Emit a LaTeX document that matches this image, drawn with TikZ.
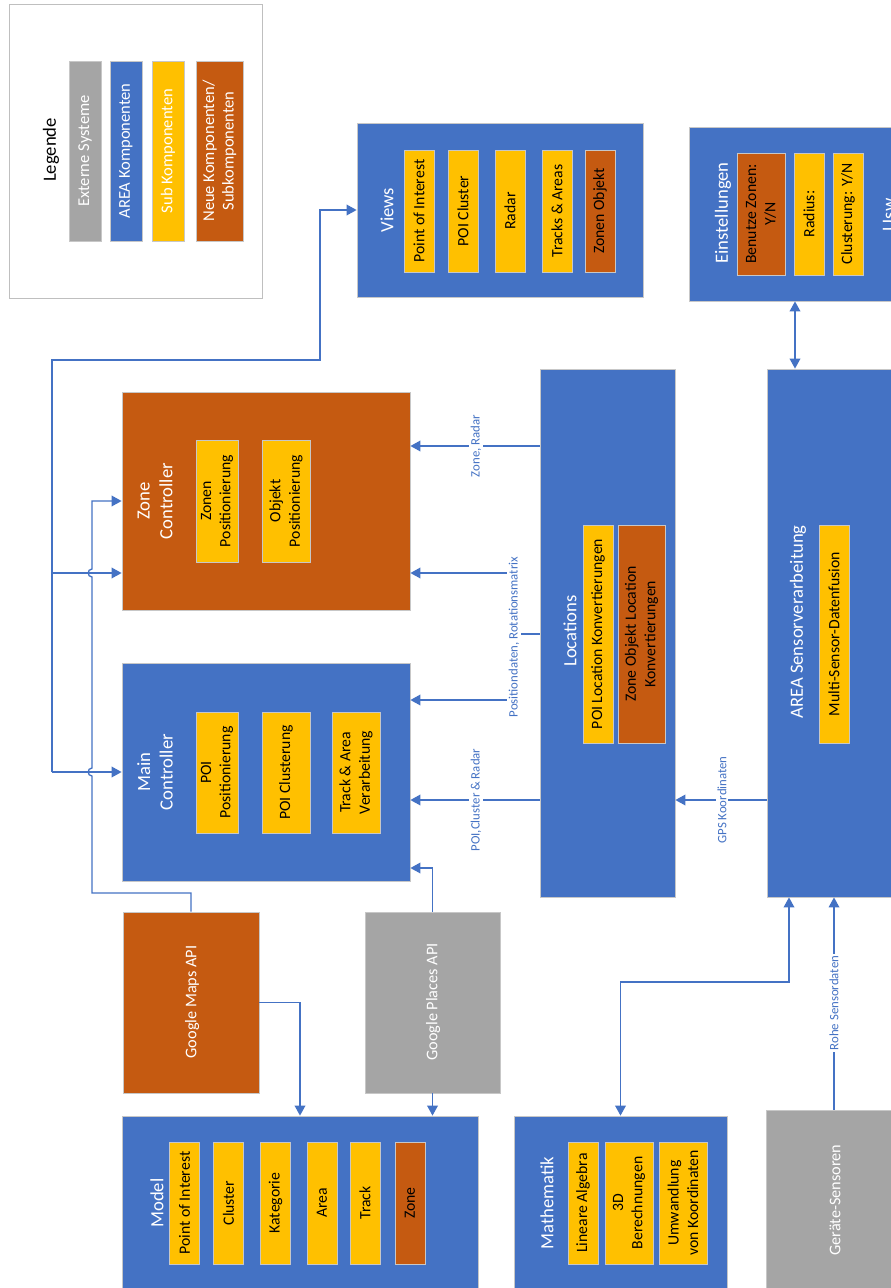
\documentclass[tikz,border=0pt]{standalone}
\usepackage{fontspec}
\setmainfont{Carlito}
\usepackage{xcolor}
\usepackage{tikz}
\usetikzlibrary{positioning, calc, arrows.meta}

\definecolor{arblue}{HTML}{4472C4}
\definecolor{arorange}{HTML}{C55A11}
\definecolor{aryellow}{HTML}{FFC000}
\definecolor{argray}{HTML}{A5A5A5}

\begin{document}
\begin{tikzpicture}[
    x=0.75pt, y=-0.75pt,
    blk/.style 2 args={draw=black!22, line width=0.6pt, inner sep=0pt,
                minimum width=#1*0.75pt, minimum height=#2*0.75pt},
    sbox/.style 2 args={draw=black!22, line width=0.6pt, rotate=90, inner sep=1pt,
                align=center, font=\fontsize{11.8}{14.5}\selectfont,
                minimum width=#1*0.75pt, minimum height=#2*0.75pt},
    ttl/.style={rotate=90, text=white, align=center, font=\fontsize{14}{17}\selectfont},
    ext/.style={rotate=90, text=white, font=\fontsize{12.2}{14}\selectfont},
    lbl/.style={rotate=90, fill=white, text=arblue, inner sep=1pt,
                font=\fontsize{9.6}{11}\selectfont},
    con/.style={draw=arblue, line width=1pt, -{Triangle[length=7.5pt,width=8pt]}},
    dcon/.style={con, {Triangle[length=7.5pt,width=8pt]}-{Triangle[length=7.5pt,width=8pt]}},
]
\useasboundingbox (0,0) rectangle (891,1288);
\fill[white] (0,0) rectangle (891,1288);

% legend
\node[blk={253}{294}, draw=black!25] (legend) at (135.5,151) {};
\node[rotate=90, font=\fontsize{14}{17}\selectfont] (legT) at (51,150) {Legende};
\node[sbox={180}{32}, fill=argray, text=white, font=\fontsize{12.4}{14.5}\selectfont] (lg1) at (85,151) {Externe Systeme};
\node[sbox={180}{32}, fill=arblue, text=white, font=\fontsize{12.4}{14.5}\selectfont] (lg2) at (126,151) {AREA Komponenten};
\node[sbox={180}{32}, fill=aryellow, text=white, font=\fontsize{12.4}{14.5}\selectfont] (lg3) at (168,151) {Sub Komponenten};
\node[sbox={180}{47}, fill=arorange, text=white, font=\fontsize{12.4}{14.5}\selectfont] (lg4) at (219.5,151) {Neue Komponenten/\\Subkomponenten};

% main blocks
\node[blk={286}{174}, fill=arblue] (views) at (500,210) {};
\node[blk={271}{174}, fill=arblue] (einst) at (824.5,214) {};
\node[blk={288}{218}, fill=arorange] (zc) at (266,501) {};
\node[blk={288}{218}, fill=arblue] (mc) at (266,772) {};
\node[blk={135}{528}, fill=arblue] (loc) at (607.5,633) {};
\node[blk={233}{528}, fill=arblue] (area) at (883.5,633) {};
\node[blk={136}{181}, fill=arorange] (maps) at (191,1002.5) {};
\node[blk={135}{181}, fill=argray] (places) at (432.5,1002.5) {};
\node[blk={356}{176}, fill=arblue] (model) at (300,1204) {};
\node[blk={213}{176}, fill=arblue] (math) at (620.5,1204) {};
\node[blk={136}{182}, fill=argray] (ger) at (834,1201) {};

% titles
\node[ttl] (viewsT) at (387,210) {Views};
\node[ttl] (einstT) at (723,213) {Einstellungen};
\node[ttl] (uswT) at (889,213) {Usw.};
\node[ttl] (zcT) at (155,501) {Zone\\Controller};
\node[ttl] (mcT) at (155,772) {Main\\Controller};
\node[ttl] (locT) at (570,631) {Locations};
\node[ttl] (areaT) at (798,622) {AREA Sensorverarbeitung};
\node[ttl] (modelT) at (157,1203) {Model};
\node[ttl] (mathT) at (547,1203) {Mathematik};
\node[ext] (mapsT) at (192,1002) {Google Maps API};
\node[ext] (placesT) at (433,1002) {Google Places API};
\node[ext] (gerT) at (835,1200) {Geräte-Sensoren};

% sub components
\node[sbox={122}{30}, fill=aryellow] (v1) at (419,211) {Point of Interest};
\node[sbox={122}{30}, fill=aryellow] (v2) at (463,211) {POI Cluster};
\node[sbox={122}{30}, fill=aryellow] (v3) at (510,211) {Radar};
\node[sbox={122}{30}, fill=aryellow] (v4) at (557,211) {Tracks \& Areas};
\node[sbox={122}{30}, fill=arorange] (v5) at (600,211) {Zonen Objekt};

\node[sbox={122}{48}, fill=arorange] (e1) at (761,214) {Benutze Zonen:\\Y/N};
\node[sbox={122}{30}, fill=aryellow] (e2) at (809,214) {Radius:};
\node[sbox={122}{30}, fill=aryellow] (e3) at (848,214) {Clusterung: Y/N};

\node[sbox={122}{42}, fill=aryellow] (z1) at (217,501) {Zonen\\Positionierung};
\node[sbox={122}{48}, fill=aryellow] (z2) at (286,501) {Objekt\\Positionierung};

\node[sbox={121}{42}, fill=aryellow] (m1) at (217,772.5) {POI\\Positionierung};
\node[sbox={121}{48}, fill=aryellow] (m2) at (286,772.5) {POI Clusterung};
\node[sbox={121}{48}, fill=aryellow] (m3) at (356,772.5) {Track \& Area\\Verarbeitung};

\node[sbox={218}{30}, fill=aryellow] (l1) at (598,634) {POI Location Konvertierungen};
\node[sbox={218}{47}, fill=arorange] (l2) at (641.5,634) {Zone Objekt Location\\Konvertierungen};

\node[sbox={218}{30}, fill=aryellow] (a1) at (834,634) {Multi-Sensor-Datenfusion};

\node[sbox={122}{30}, fill=aryellow] (o1) at (184.5,1203) {Point of Interest};
\node[sbox={122}{30}, fill=aryellow] (o2) at (228.5,1203) {Cluster};
\node[sbox={122}{30}, fill=aryellow] (o3) at (275.5,1203) {Kategorie};
\node[sbox={122}{30}, fill=aryellow] (o4) at (322,1203) {Area};
\node[sbox={122}{30}, fill=aryellow] (o5) at (365,1203) {Track};
\node[sbox={122}{30}, fill=arorange] (o6) at (410,1203) {Zone};

\node[sbox={122}{30}, fill=aryellow] (t1) at (583,1203) {Lineare Algebra};
\node[sbox={122}{48}, fill=aryellow] (t2) at (629,1203) {3D\\Berechnungen};
\node[sbox={122}{48}, fill=aryellow] (t3) at (683,1203) {Umwandlung\\von Koordinaten};

% rows and bends of the connectors
\coordinate (rZone) at (0,446);
\coordinate (rZc) at (0,573);
\coordinate (rPos) at (0,634);
\coordinate (rMc) at (0,700);
\coordinate (rPoi) at (0,800);
\coordinate (rPl) at (0,868);
\coordinate (jPos) at (514,634);
\coordinate (bus) at (52,772);
\coordinate (cEin) at (795,0);
\coordinate (cMath) at (789,982);

% controller feed
\draw[con] (bus) -- (mc.west);
\draw[con] (bus |- rZc) -- (zc.west |- rZc);
\draw[con] (bus) |- (320,360) |- (views.west);
\draw[con] (maps.north) |- (92,893) -- (92,776)
    to[out=180, in=180, looseness=1.6] (92,768) -- (92,577)
    to[out=180, in=180, looseness=1.6] (92,569) |- (zc.west);

% locations to controllers
\draw[con] (loc.west |- rZone) -- (zc.east |- rZone);
\node[lbl] (lZone) at (476,446) {Zone, Radar};
\draw[con] (loc.west |- rPos) -- (jPos) |- (zc.east |- rZc);
\draw[con] (jPos) |- (mc.east |- rMc);
\node[lbl] (lPos) at (514,637) {Positiondaten, Rotationsmatrix};
\draw[con] (loc.west |- rPoi) -- (mc.east |- rPoi);
\node[lbl] (lPoi) at (476,800) {POI,Cluster \& Radar};
\draw[con] (area.west |- rPoi) -- (loc.east |- rPoi);
\node[lbl] (lGps) at (722,800) {GPS Koordinaten};

% external apis
\draw[con] (places.north) |- (mc.east |- rPl);
\draw[con] (places.south) -- (places.south |- model.north);
\draw[con] (maps.east) -| (model.north);

% sensor side
\draw[dcon] (einst.south -| cEin) -- (area.north -| cEin);
\draw[dcon] (math.north) |- (cMath) -- (area.south -| cMath);
\draw[con] (ger.north) -- (ger.north |- area.south);
\node[lbl] (lRoh) at (834,1003) {Rohe Sensordaten};
\end{tikzpicture}
\end{document}
